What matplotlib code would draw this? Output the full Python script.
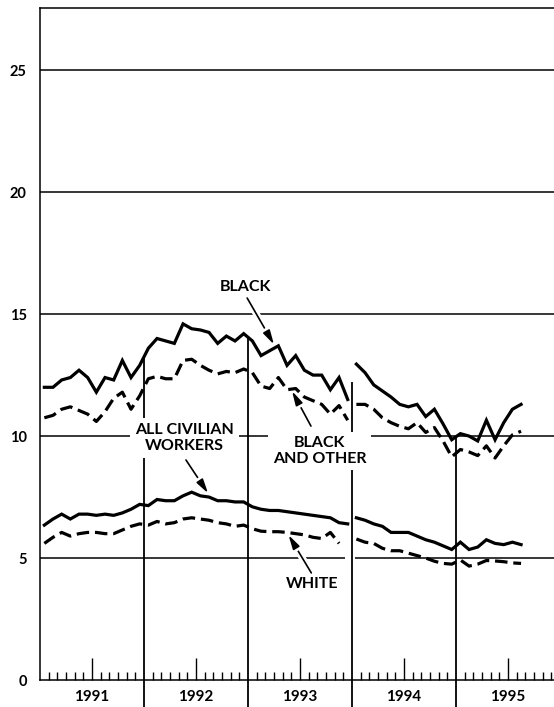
import numpy as np
import matplotlib
matplotlib.use('Agg')
import matplotlib.pyplot as plt
from matplotlib import patheffects

plt.rcParams['font.family'] = ['Lato', 'DejaVu Sans']
plt.rcParams['font.weight'] = 'bold'
plt.rcParams['lines.scale_dashes'] = False

# monthly unemployment rates, Jan 1991 - Dec 1993 and Jan 1994 - Aug 1995
years = ['1991', '1992', '1993', '1994', '1995']

black_91_93 = [12.0, 12.0, 12.3, 12.4, 12.7, 12.4, 11.8, 12.4, 12.3, 13.1, 12.4, 12.9,
               13.6, 14.0, 13.9, 13.8, 14.6, 14.4, 14.35, 14.25, 13.8, 14.1, 13.9, 14.2,
               13.9, 13.3, 13.5, 13.7, 12.9, 13.3, 12.7, 12.5, 12.5, 11.9, 12.4, 11.5]
black_94_95 = [12.95, 12.6, 12.1, 11.85, 11.6, 11.3, 11.2, 11.3, 10.8, 11.1, 10.5, 9.85,
               10.1, 10.0, 9.8, 10.65, 9.85, 10.55, 11.1, 11.3]

black_other_91_93 = [10.75, 10.85, 11.1, 11.2, 11.05, 10.9, 10.6, 11.0, 11.55, 11.8, 11.1, 11.65,
                     12.35, 12.45, 12.35, 12.35, 13.1, 13.15, 12.9, 12.7, 12.55, 12.65, 12.6, 12.75,
                     12.6, 12.05, 11.95, 12.4, 11.9, 11.95, 11.6, 11.45, 11.3, 10.9, 11.25, 10.65]
black_other_94_95 = [11.3, 11.3, 11.1, 10.75, 10.55, 10.4, 10.3, 10.55, 10.15, 10.35, 9.8, 9.15,
                     9.45, 9.35, 9.2, 9.6, 9.1, 9.6, 10.05, 10.2]

civilian_91_93 = [6.35, 6.6, 6.8, 6.6, 6.8, 6.8, 6.75, 6.8, 6.75, 6.85, 7.0, 7.2,
                  7.15, 7.4, 7.35, 7.35, 7.55, 7.7, 7.55, 7.5, 7.35, 7.35, 7.3, 7.3,
                  7.1, 7.0, 6.95, 6.95, 6.9, 6.85, 6.8, 6.75, 6.7, 6.65, 6.45, 6.4]
civilian_94_95 = [6.65, 6.55, 6.4, 6.3, 6.05, 6.05, 6.05, 5.9, 5.75, 5.65, 5.5, 5.35,
                  5.65, 5.35, 5.45, 5.75, 5.6, 5.55, 5.65, 5.55]

white_91_93 = [5.6, 5.85, 6.05, 5.9, 6.0, 6.05, 6.05, 6.0, 6.0, 6.15, 6.3, 6.4,
               6.35, 6.5, 6.4, 6.45, 6.6, 6.65, 6.6, 6.55, 6.45, 6.4, 6.3, 6.35,
               6.2, 6.1, 6.08, 6.08, 6.05, 6.0, 5.95, 5.85, 5.8, 6.05, 5.6, np.nan]
white_94_95 = [5.78, 5.65, 5.6, 5.4, 5.3, 5.3, 5.2, 5.1, 5.0, 4.87, 4.78, 4.75,
               4.92, 4.67, 4.75, 4.9, 4.88, 4.85, 4.8, 4.78]

x_a = np.arange(len(black_91_93)) + 0.5
x_b = 36 + np.arange(len(black_94_95)) + 0.5

fig = plt.figure(figsize=(5.54, 7.07), dpi=100)
ax = fig.add_axes([40 / 554, 27 / 707, 514 / 554, 672 / 707])
xmax = 59.3
ax.set_xlim(0, xmax)
ax.set_ylim(0, 27.55)

# gridlines (5 and 10 are broken where the series break)
for g in [15, 20, 25]:
    ax.hlines(g, 0, xmax, color='black', lw=1.1, zorder=1)
for g in [5, 10]:
    ax.hlines(g, 0, 35.2, color='black', lw=1.1, zorder=1)
    ax.hlines(g, 36.3, xmax, color='black', lw=1.1, zorder=1)

# year boundary lines, dropped from the black series
bounds = [12, 24, 36, 48]
black_all = black_91_93 + black_94_95
for b in bounds:
    top = (black_all[b - 1] + black_all[b]) / 2
    ax.vlines(b, -1.15, top, color='black', lw=1.3, zorder=2, clip_on=False)

solid = dict(color='black', lw=2.3, zorder=4, solid_joinstyle='miter')
dashed = dict(color='black', lw=2.3, zorder=4, dashes=(9, 4.2))
for xs, b, bo, c, w in [(x_a, black_91_93, black_other_91_93, civilian_91_93, white_91_93),
                        (x_b, black_94_95, black_other_94_95, civilian_94_95, white_94_95)]:
    ax.plot(xs, b, **solid)
    ax.plot(xs, bo, **dashed)
    ax.plot(xs, c, **solid)
    ax.plot(xs, w, **dashed)

# labels and arrows
box = dict(boxstyle='square,pad=0.3', fc='white', ec='none')
fs = 11.5
ax.text(23.65, 16.1, 'BLACK', ha='center', va='center', fontsize=fs, zorder=3)
ax.text(16.67, 9.92, 'ALL CIVILIAN\nWORKERS', ha='center', va='center', fontsize=fs,
        linespacing=1.15, bbox=box, zorder=3)
ax.text(32.24, 9.39, 'BLACK\nAND OTHER', ha='center', va='center', fontsize=fs,
        linespacing=1.1, bbox=box, zorder=3)
ax.text(31.43, 3.93, 'WHITE', ha='center', va='center', fontsize=fs, zorder=3)

arrow = dict(arrowstyle='-|>,head_length=0.85,head_width=0.22', color='black', lw=1.2,
             shrinkA=0, shrinkB=0,
             path_effects=[patheffects.withStroke(linewidth=5, foreground='white')])
for start, tip in [((23.9, 15.66), (27.0, 13.75)),
                   ((16.84, 9.02), (19.4, 7.65)),
                   ((31.26, 10.41), (29.07, 11.85)),
                   ((31.3, 4.39), (28.66, 5.95))]:
    ax.annotate('', xy=tip, xytext=start, arrowprops=arrow, zorder=3)

# axes styling
for s in ['left', 'bottom', 'top']:
    ax.spines[s].set_linewidth(1.1)
ax.spines['right'].set_visible(False)

ax.set_yticks([0, 5, 10, 15, 20, 25])
ax.tick_params(axis='y', length=0, pad=9.5, labelsize=10.5)
ax.set_xticks([6, 18, 30, 42, 54])
ax.set_xticklabels(years)
ax.set_xticks([m for m in range(1, 60) if m % 12 not in (0, 6)], minor=True)
ax.tick_params(axis='x', which='major', direction='in', length=16, width=1.0,
               pad=7, labelsize=11)
ax.tick_params(axis='x', which='minor', direction='in', length=5.5, width=1.0)

fig.savefig('out.png', dpi=100)
